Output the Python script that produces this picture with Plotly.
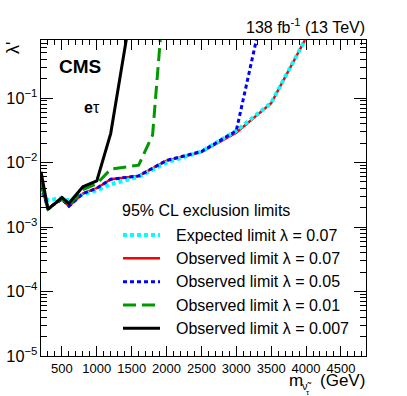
import plotly.graph_objects as go

# ---- data ----
mass = [200, 300, 500, 600, 800, 1000, 1200, 1600, 2000, 2500, 3000, 3500, 4000]
expected_007 = [0.0033, 0.0026, 0.0028, 0.0026, 0.0032, 0.0037, 0.0046, 0.0060, 0.0100, 0.0148, 0.031, 0.084, 0.85]
observed_007 = [0.0043, 0.00195, 0.0027, 0.0021, 0.0033, 0.0040, 0.0055, 0.0062, 0.0107, 0.0145, 0.029, 0.083, 0.85]

mass_005 = [200, 300, 500, 600, 800, 1000, 1200, 1600, 2000, 2500, 3000, 3500]
observed_005 = [0.0043, 0.00195, 0.0027, 0.0021, 0.0033, 0.0040, 0.0055, 0.0062, 0.0108, 0.0148, 0.031, 8.7]

mass_001 = [200, 300, 500, 600, 800, 1000, 1200, 1600, 1800, 2000]
observed_001 = [0.0050, 0.0019, 0.0028, 0.0022, 0.0038, 0.0047, 0.0079, 0.0091, 0.0267, 12.8]

mass_0007 = [200, 300, 500, 600, 800, 1000, 1200, 1600]
observed_0007 = [0.0072, 0.00188, 0.00288, 0.00233, 0.0042, 0.0052, 0.0284, 11.5]

x_ticks = [500, 1000, 1500, 2000, 2500, 3000, 3500, 4000, 4500]

legend_title = "95% CL exclusion limits"
labels = ["Expected limit λ = 0.07", "Observed limit λ = 0.07", "Observed limit λ = 0.05",
          "Observed limit λ = 0.01", "Observed limit λ = 0.007"]

FONT = "Liberation Sans, Arial, Helvetica, sans-serif"

styles = [
    dict(color="#00ffff", width=4, dash="4px,3px"),   # expected 0.07
    dict(color="#ff0000", width=2.5, dash="solid"),  # observed 0.07
    dict(color="#0000ff", width=3, dash="4px,3px"),   # observed 0.05
    dict(color="#009900", width=3, dash="13px,6px"),  # observed 0.01
    dict(color="#000000", width=3, dash="solid"),    # observed 0.007
]

fig = go.Figure()
# draw order: red, cyan, blue, green, black
fig.add_trace(go.Scatter(x=mass, y=observed_007, mode="lines", line=styles[1], showlegend=False))
fig.add_trace(go.Scatter(x=mass, y=expected_007, mode="lines", line=styles[0], showlegend=False))
fig.add_trace(go.Scatter(x=mass_005, y=observed_005, mode="lines", line=styles[2], showlegend=False))
fig.add_trace(go.Scatter(x=mass_001, y=observed_001, mode="lines", line=styles[3], showlegend=False))
fig.add_trace(go.Scatter(x=mass_0007, y=observed_0007, mode="lines", line=styles[4], showlegend=False))

W, H = 407, 396
L, R, T, B = 41, 41, 40, 40
pw, ph = W - L - R, H - T - B


def px(x):
    return (x - L) / pw


def py(y):
    return (H - B - y) / ph


def txt(text, x, y, size, xanchor="left", yanchor="middle", **kw):
    return dict(text=text, x=px(x), y=py(y), xref="paper", yref="paper",
                xanchor=xanchor, yanchor=yanchor, showarrow=False,
                font=dict(family=FONT, size=size, color="black"), **kw)


shapes = []
annotations = []
# legend
annotations.append(txt(legend_title, 120, 210.5, 16))
row_y = [235, 258.3, 281.7, 305, 328.3]
for i, (lab, st) in enumerate(zip(labels, styles)):
    shapes.append(dict(type="line", xref="paper", yref="paper", x0=px(123), x1=px(160),
                       y0=py(row_y[i]), y1=py(row_y[i]),
                       line=dict(color=st["color"], width=st["width"], dash=st["dash"])))
    annotations.append(txt(lab, 174, row_y[i], 16))

annotations += [
    txt("<b>CMS</b>", 57, 66, 19),
    txt("<b>e</b>τ", 82, 107, 16),
    txt("138 fb<sup>-1</sup> (13 TeV)", 367, 26, 16, xanchor="right"),
    txt("λ'", 13, 40, 18, xanchor="center", yanchor="top", textangle=-90),
    # x-axis title: m with nested subscript ν̃_τ
    txt("m", 287, 380, 17),
    txt("ν̃", 300, 386, 11),
    txt("τ", 304, 392, 8),
    txt("(GeV)", 367, 380, 17, xanchor="right"),
]

fig.update_layout(
    width=W, height=H, autosize=False,
    margin=dict(l=L, r=R, t=T, b=B, pad=0),
    paper_bgcolor="white", plot_bgcolor="white",
    showlegend=False,
    shapes=shapes, annotations=annotations,
    font=dict(family=FONT, size=13, color="black"),
)
fig.update_xaxes(
    range=[200, 4860], tickvals=x_ticks, ticks="inside", ticklen=10, tickwidth=1,
    tickcolor="black", showline=True, linecolor="black", linewidth=1, mirror="allticks",
    showgrid=False, zeroline=False, tickfont=dict(family=FONT, size=13), automargin=False,
    minor=dict(ticks="inside", ticklen=5, dtick=100, tick0=0, tickcolor="black", showgrid=False),
)
fig.update_yaxes(
    type="log", range=[-5, -0.1], dtick=1, exponentformat="power", ticks="inside",
    ticklen=12, tickwidth=1, tickcolor="black", showline=True, linecolor="black",
    linewidth=1, mirror="allticks", showgrid=False, zeroline=False, automargin=False,
    tickfont=dict(family=FONT, size=13),
    minor=dict(ticks="inside", ticklen=6, tickcolor="black", showgrid=False),
)

fig.write_html("out.html", config={"displayModeBar": False},
               post_script="document.body.style.margin='0';")
